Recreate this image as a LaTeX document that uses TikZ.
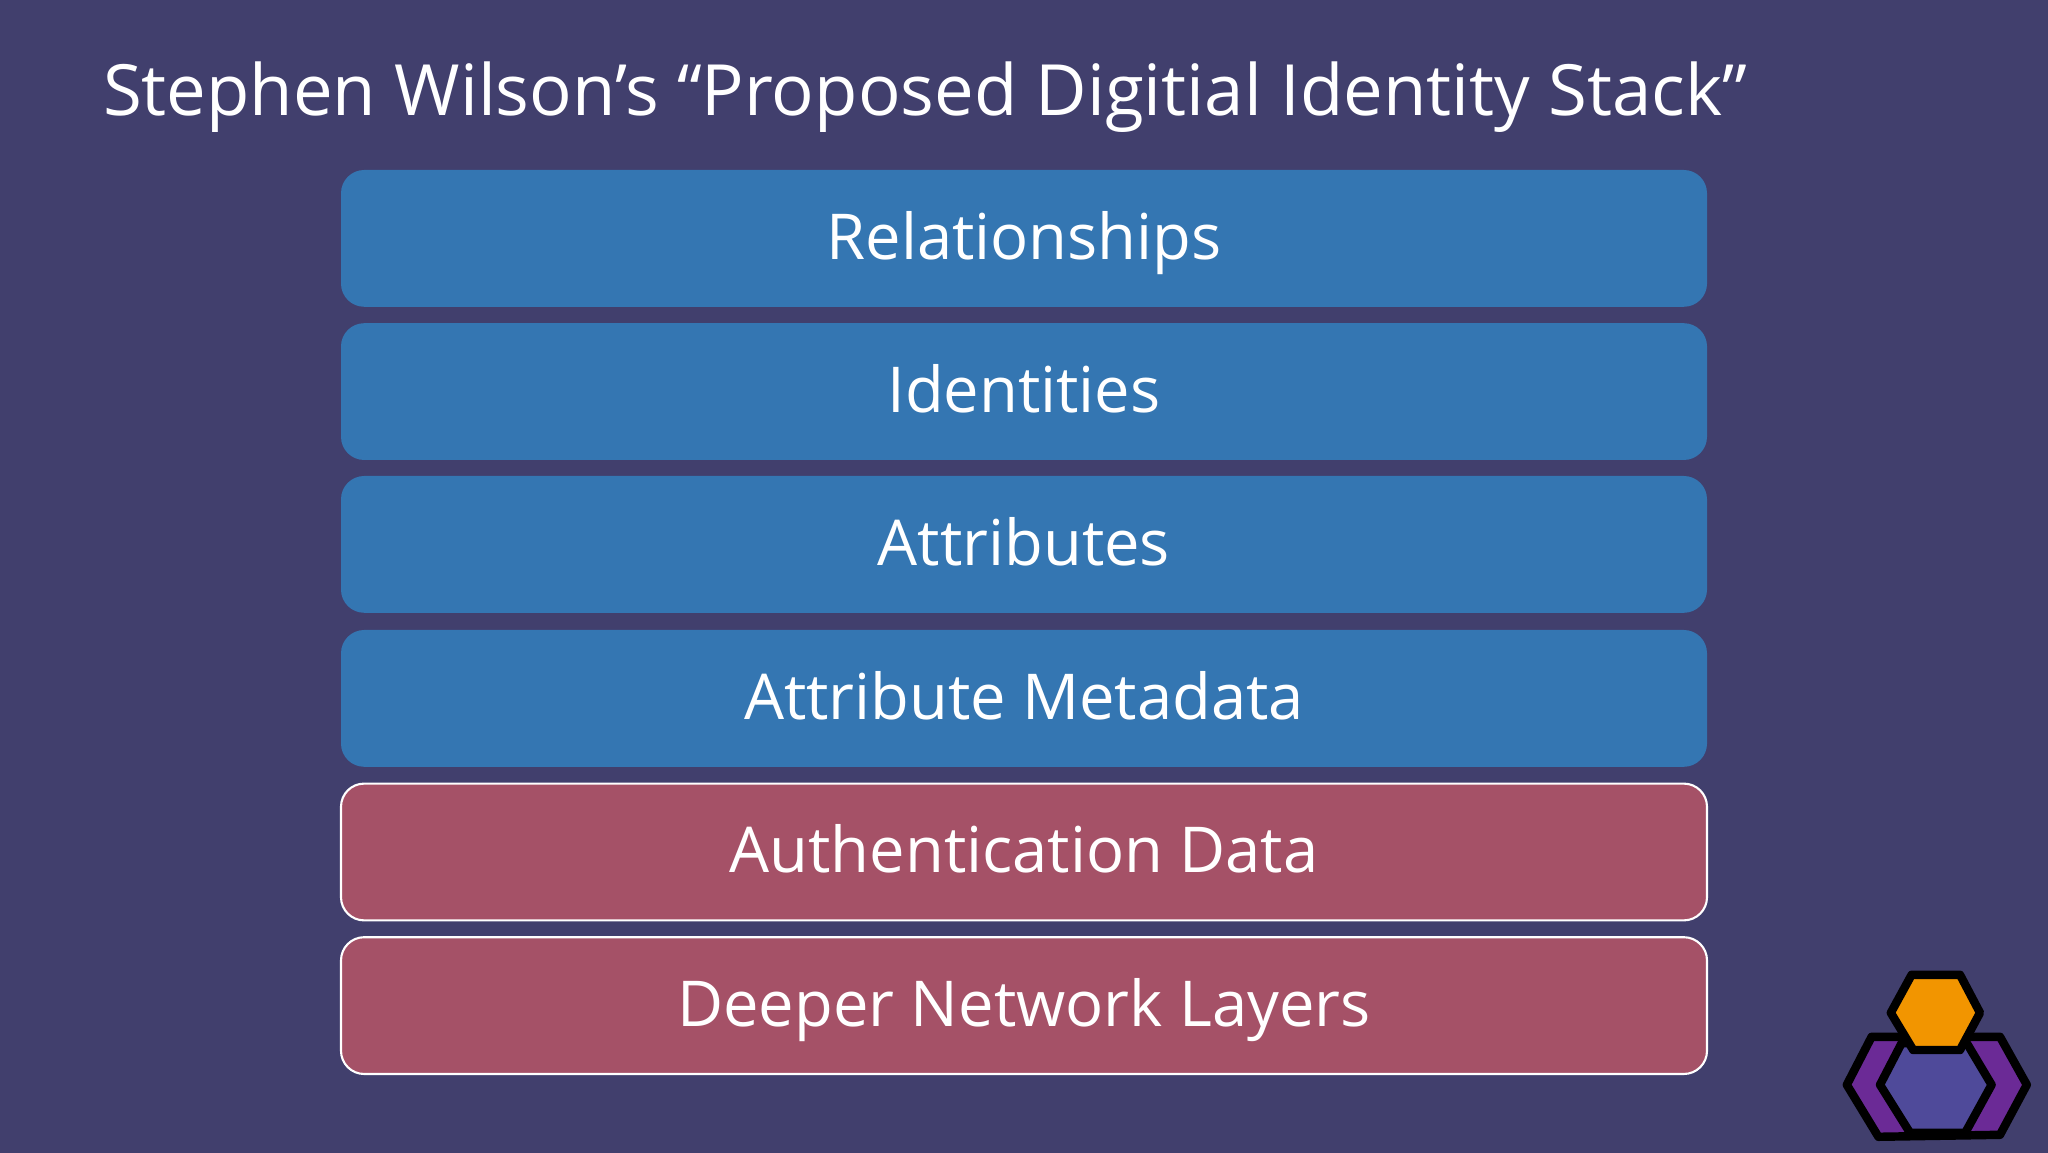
\documentclass[tikz,border=0pt]{standalone}
\usepackage{fontspec}
\setmainfont{Open Sans}
\definecolor{slidebg}{HTML}{413F6D}
\definecolor{stackblue}{HTML}{3476B2}
\definecolor{stackred}{HTML}{A55167}
\definecolor{logoorange}{HTML}{F29500}
\definecolor{logopurple}{HTML}{6B2A96}
\definecolor{logoviolet}{HTML}{4F4A9A}
\tikzset{
  layer/.style={minimum width=34.15cm,minimum height=3.42cm,rounded corners=0.58cm,text=white,
    font=\fontsize{45}{46}\selectfont,text height=1.1cm,text depth=0.06cm,inner sep=0pt},
  upperlayer/.style={layer,fill=stackblue},
  lowerlayer/.style={layer,fill=stackred,draw=white,line width=1.5pt},
  hexline/.style={draw=black,line width=6pt,line join=round}
}
\begin{document}
\begin{tikzpicture}
      \useasboundingbox (0,0) rectangle (51.2,28.8);
      \fill[slidebg] (-0.2,-0.2) rectangle (51.4,29);
      \node[anchor=base west,inner sep=0pt,text=white,font=\fontsize{50.3}{50}\selectfont] (title) at (2.57,25.91) {Stephen Wilson’s “Proposed Digitial Identity Stack”};
      \node[upperlayer] (relationships) at (25.6,22.84) {Relationships};
      \node[upperlayer] (identities) at (25.6,19.01) {Identities};
      \node[upperlayer] (attributes) at (25.6,15.19) {Attributes};
      \node[upperlayer] (metadata) at (25.6,11.34) {Attribute Metadata};
      \node[lowerlayer] (authdata) at (25.6,7.5) {Authentication Data};
      \node[lowerlayer] (network) at (25.6,3.66) {Deeper Network Layers};
      % logo
      \draw[hexline,fill=logopurple] (46.79,2.88) -- (50,2.88) -- (50.67,1.68) -- (50,0.43) -- (46.96,0.38) -- (46.17,1.68) -- cycle;
      \draw[hexline,fill=logoviolet] (47.54,2.72) -- (49.17,2.72) -- (49.79,1.68) -- (49.13,0.48) -- (47.75,0.48) -- (47,1.68) -- cycle;
      \draw[hexline,fill=logoorange] (47.79,4.43) -- (49,4.43) -- (49.5,3.48) -- (49,2.55) -- (47.83,2.55) -- (47.27,3.48) -- cycle;
    \end{tikzpicture}
\end{document}
